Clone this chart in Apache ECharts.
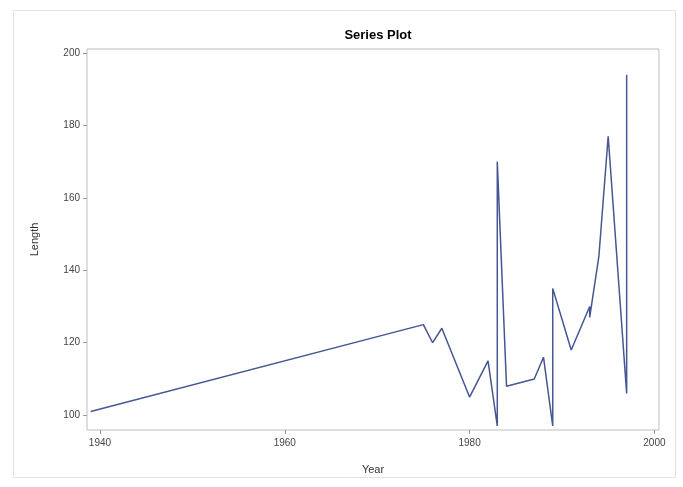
<!DOCTYPE html>
<html><head><meta charset="utf-8">
<script src="https://cdn.jsdelivr.net/npm/echarts@6/dist/echarts.min.js"></script>
<style>html,body{margin:0;padding:0;background:#fff}#c{width:683px;height:487px}</style>
</head><body><div id="c"></div>
<script>
const years   = [1939, 1975, 1976, 1977, 1980, 1982, 1983, 1983, 1984, 1987, 1988, 1989, 1989, 1991, 1993, 1993, 1994, 1995, 1997, 1997];
const lengths = [101,  125,  120,  124,  105,  115,  97,   170,  108,  110,  116,  97,   135,  118,  130,  127,  144,  177,  106,  194];
const xTicks = [1940, 1960, 1980, 2000];
const yTicks = [100, 120, 140, 160, 180, 200];

const font = '"Liberation Sans", Arial, sans-serif';
const chart = echarts.init(document.getElementById('c'));
chart.setOption({
  animation: false,
  backgroundColor: '#fff',
  title: {
    text: 'Series Plot', left: 373, top: 24, textAlign: 'center',
    textStyle: {fontFamily: font, fontSize: 13, fontWeight: 'bold', color: '#000'}
  },
  graphic: [{
    type: 'rect', shape: {x: 13.5, y: 10.5, width: 662, height: 467},
    style: {fill: 'none', stroke: '#e2e2e2', lineWidth: 1}, silent: true
  }],
  grid: {left: 87, right: 24, top: 49, bottom: 57, show: true, borderColor: '#bdbdbd', borderWidth: 1, backgroundColor: '#fff'},
  xAxis: {
    type: 'value', min: 1938.6, max: 2000.5,
    name: 'Year', nameLocation: 'middle', nameGap: 34,
    nameTextStyle: {fontFamily: font, fontSize: 11, color: '#333'},
    axisLine: {show: false},
    axisTick: {show: true, length: 4, lineStyle: {color: '#999'}, customValues: xTicks},
    axisLabel: {fontFamily: font, fontSize: 10, color: '#444', margin: 8, customValues: xTicks, formatter: v => String(Math.round(v))},
    splitLine: {show: false}
  },
  yAxis: {
    type: 'value', min: 95.9, max: 201.1,
    name: 'Length', nameLocation: 'middle', nameGap: 47, nameRotate: 90,
    nameTextStyle: {fontFamily: font, fontSize: 11, color: '#333'},
    axisLine: {show: false},
    axisTick: {show: true, length: 4, lineStyle: {color: '#999'}, customValues: yTicks},
    axisLabel: {fontFamily: font, fontSize: 10, color: '#444', margin: 7, customValues: yTicks, formatter: v => String(Math.round(v))},
    splitLine: {show: false}
  },
  series: [{
    type: 'line', data: years.map((y, i) => [y, lengths[i]]),
    showSymbol: false, symbol: 'none',
    lineStyle: {color: '#445694', width: 1.5}
  }]
});
</script></body></html>
